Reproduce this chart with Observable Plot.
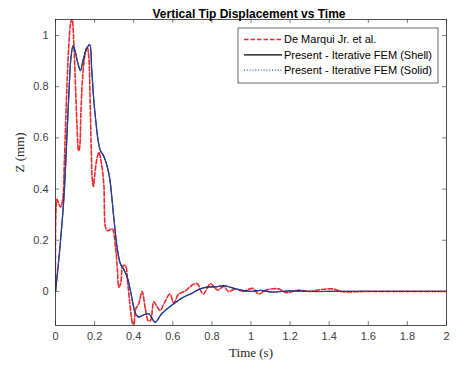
<!DOCTYPE html>
<html>
<head>
<meta charset="utf-8">
<script src="https://cdn.jsdelivr.net/npm/d3@7"></script>
<script src="https://cdn.jsdelivr.net/npm/@observablehq/plot@0.6"></script>
<style>
  html, body { margin: 0; padding: 0; background: #fff; }
  #chart { position: relative; width: 456px; height: 369px; }
</style>
</head>
<body>
<div id="chart"></div>
<script>
// ---- Data ----
const title = "Vertical Tip Displacement vs Time";
const xLabel = "Time (s)";
const yLabel = "Z (mm)";
const seriesNames = ["De Marqui Jr. et al.", "Present - Iterative FEM (Shell)", "Present - Iterative FEM (Solid)"];
const xTicks = [0, 0.2, 0.4, 0.6, 0.8, 1, 1.2, 1.4, 1.6, 1.8, 2];
const yTicks = [0, 0.2, 0.4, 0.6, 0.8, 1];
const xDomain = [0, 2];
const yDomain = [-0.133, 1.0625];

const deMarquiT = [0, 0.008, 0.018, 0.026, 0.037, 0.045, 0.056, 0.068, 0.078, 0.085, 0.092, 0.1, 0.11, 0.118, 0.123, 0.13, 0.14, 0.152, 0.162, 0.17, 0.177, 0.183, 0.188, 0.194, 0.2, 0.21, 0.222, 0.235, 0.247, 0.256, 0.265, 0.273, 0.29, 0.307, 0.317, 0.324, 0.333, 0.345, 0.358, 0.368, 0.378, 0.39, 0.4, 0.41, 0.426, 0.443, 0.46, 0.475, 0.486, 0.503, 0.52, 0.535, 0.56, 0.585, 0.605, 0.63, 0.66, 0.7, 0.725, 0.745, 0.757, 0.793, 0.83, 0.86, 0.885, 0.92, 0.96, 1.007, 1.04, 1.075, 1.14, 1.18, 1.24, 1.3, 1.355, 1.42, 1.46, 1.6, 1.8, 2];
const deMarquiZ = [0, 0.36, 0.34, 0.33, 0.36, 0.5, 0.75, 0.96, 1.05, 1.065, 1.0, 0.85, 0.65, 0.55, 0.56, 0.7, 0.85, 0.93, 0.955, 0.92, 0.75, 0.55, 0.44, 0.41, 0.45, 0.51, 0.544, 0.5, 0.42, 0.25, 0.238, 0.238, 0.245, 0.173, 0.08, 0.017, 0.03, 0.1, 0.1, 0.043, -0.03, -0.11, -0.14, -0.07, -0.048, 0.0, -0.07, -0.115, -0.113, -0.04, -0.06, -0.074, -0.04, -0.01, -0.045, -0.01, 0.0, 0.025, 0.03, 0.0, -0.01, 0.03, 0.005, 0.02, 0.0, 0.01, 0.0, 0.012, -0.01, 0.005, 0.01, -0.005, 0.005, 0.0, 0.007, 0.01, 0.0, 0.0, 0.0, 0.0];

const shellT = [0, 0.02, 0.0425, 0.055, 0.067, 0.08, 0.09, 0.1, 0.115, 0.128, 0.14, 0.16, 0.175, 0.185, 0.196, 0.207, 0.218, 0.23, 0.246, 0.273, 0.298, 0.315, 0.332, 0.35, 0.367, 0.384, 0.41, 0.426, 0.45, 0.477, 0.51, 0.54, 0.571, 0.605, 0.656, 0.69, 0.74, 0.776, 0.82, 0.86, 0.9, 0.95, 1.0, 1.05, 1.1, 1.2, 1.3, 1.4, 1.6, 1.8, 2];
const shellZ = [0, 0.15, 0.36, 0.55, 0.75, 0.92, 0.96, 0.94, 0.89, 0.863, 0.9, 0.95, 0.964, 0.87, 0.746, 0.66, 0.59, 0.55, 0.53, 0.46, 0.29, 0.173, 0.108, 0.085, 0.056, 0.0, -0.087, -0.1, -0.092, -0.087, -0.12, -0.09, -0.068, -0.048, -0.022, -0.01, 0.01, 0.017, 0.018, 0.023, 0.015, 0.005, 0.0, 0.004, -0.002, 0.002, 0.0, 0.0, 0.0, 0.0, 0.0];

const solidT = [0, 0.02, 0.0425, 0.055, 0.067, 0.08, 0.09, 0.1, 0.115, 0.128, 0.14, 0.16, 0.175, 0.185, 0.196, 0.207, 0.218, 0.23, 0.246, 0.273, 0.298, 0.315, 0.332, 0.35, 0.367, 0.384, 0.41, 0.426, 0.45, 0.477, 0.51, 0.54, 0.571, 0.605, 0.656, 0.69, 0.74, 0.776, 0.82, 0.86, 0.9, 0.95, 1.0, 1.05, 1.1, 1.2, 1.3, 1.4, 1.6, 1.8, 2];
const solidZ = [0, 0.15, 0.36, 0.55, 0.75, 0.92, 0.96, 0.94, 0.89, 0.863, 0.9, 0.95, 0.964, 0.87, 0.746, 0.66, 0.59, 0.55, 0.53, 0.46, 0.29, 0.173, 0.108, 0.085, 0.056, 0.0, -0.087, -0.1, -0.092, -0.087, -0.12, -0.09, -0.068, -0.048, -0.022, -0.01, 0.01, 0.017, 0.018, 0.023, 0.015, 0.005, 0.0, 0.004, -0.002, 0.002, 0.0, 0.0, 0.0, 0.0, 0.0];

// ---- Build tables ----
const toRows = (ts, zs) => ts.map((t, i) => ({t, z: zs[i]}));
const deMarqui = toRows(deMarquiT, deMarquiZ);
const shell = toRows(shellT, shellZ);
const solid = toRows(solidT, solidZ);

const styles = [
  {stroke: "#f0262b", strokeWidth: 1.6, strokeDasharray: "4.5,2"},
  {stroke: "#000000", strokeWidth: 1.2, strokeDasharray: null},
  {stroke: "#2f4fd0", strokeWidth: 1.3, strokeDasharray: "1,1.8"}
];

const W = 456, H = 369;
const mL = 55, mR = 10, mT = 19, mB = 44;
const innerH = H - mT - mB, innerW = W - mL - mR;
const tickLen = 4;
const axisColor = "#262626";
const sans = "Liberation Sans, Arial, Helvetica, sans-serif";
const serif = "Liberation Serif, Times New Roman, serif";

const plot = Plot.plot({
  width: W,
  height: H,
  marginLeft: mL,
  marginRight: mR,
  marginTop: mT,
  marginBottom: mB,
  style: {fontFamily: sans, fontSize: "11px", color: "#404040", background: "#fff", overflow: "visible"},
  x: {domain: xDomain, ticks: xTicks},
  y: {domain: yDomain, ticks: yTicks},
  marks: [
    Plot.axisX(xTicks, {tickSize: 0, tickPadding: 7, tickFormat: d => String(d), label: null, fontSize: 11, fill: "#404040"}),
    Plot.axisY(yTicks, {tickSize: 0, tickPadding: 7, tickFormat: d => String(d), label: null, fontSize: 11, fill: "#404040"}),
    // inward ticks on all four sides
    Plot.tickX(xTicks, {x: d => d, insetTop: innerH - tickLen, stroke: axisColor, strokeWidth: 0.6}),
    Plot.tickX(xTicks, {x: d => d, insetBottom: innerH - tickLen, stroke: axisColor, strokeWidth: 0.6}),
    Plot.tickY(yTicks, {y: d => d, insetRight: innerW - tickLen, stroke: axisColor, strokeWidth: 0.6}),
    Plot.tickY(yTicks, {y: d => d, insetLeft: innerW - tickLen, stroke: axisColor, strokeWidth: 0.6}),
    Plot.line(deMarqui, {x: "t", y: "z", clip: true, curve: "catmull-rom", ...styles[0]}),
    Plot.line(shell, {x: "t", y: "z", clip: true, curve: "catmull-rom", ...styles[1]}),
    Plot.line(solid, {x: "t", y: "z", clip: true, curve: "catmull-rom", ...styles[2]}),
    Plot.frame({stroke: axisColor, strokeWidth: 0.8}),
    Plot.text([xLabel], {frameAnchor: "bottom", dy: 31, fontFamily: serif, fontSize: 13, fill: "#262626"}),
    Plot.text([yLabel], {frameAnchor: "left", dx: -36, rotate: -90, fontFamily: serif, fontSize: 13, fill: "#262626"}),
    Plot.text([title], {frameAnchor: "top", dy: -10, dx: -2, fontWeight: "bold", fontSize: 12, fill: "#000"})
  ]
});

document.getElementById("chart").appendChild(plot);

// ---- Legend (drawn inside the SVG) ----
const svg = d3.select(plot);
const lg = svg.append("g").attr("transform", "translate(238,28)");
lg.append("rect").attr("x", 0).attr("y", 0).attr("width", 200).attr("height", 55)
  .attr("fill", "#fff").attr("stroke", axisColor).attr("stroke-width", 0.7);
seriesNames.forEach((name, i) => {
  const yy = 11.5 + i * 15.3;
  const s = styles[i];
  lg.append("line").attr("x1", 6).attr("x2", 44).attr("y1", yy).attr("y2", yy)
    .attr("stroke", s.stroke).attr("stroke-width", s.strokeWidth)
    .attr("stroke-dasharray", s.strokeDasharray);
  lg.append("text").attr("x", 46).attr("y", yy).attr("dy", "0.35em")
    .attr("text-anchor", "start")
    .attr("font-family", sans).attr("font-size", 11).attr("fill", "#000").text(name);
});
</script>
</body>
</html>
